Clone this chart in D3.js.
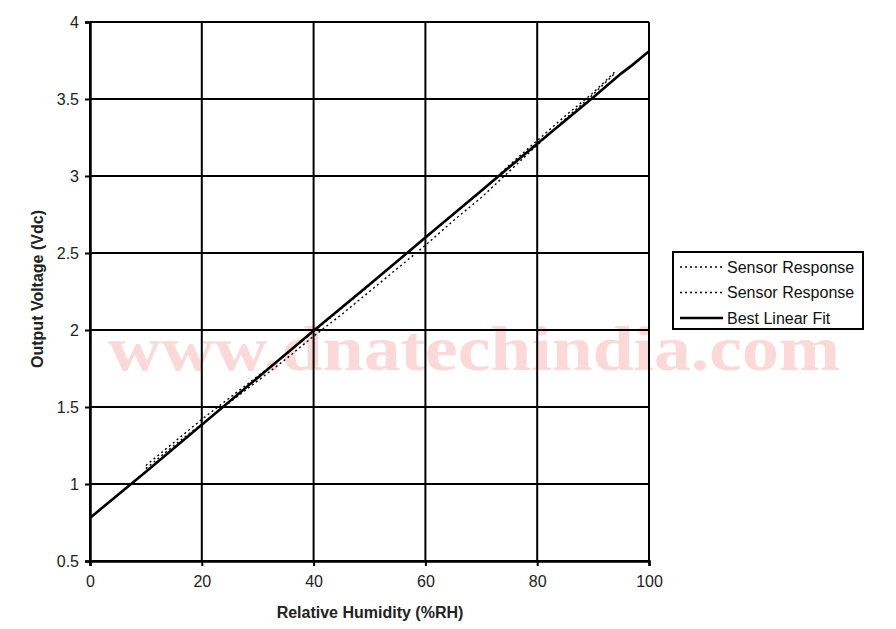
<!DOCTYPE html>
<meta charset="utf-8">
<style>
body { margin: 0; background: #fff; }
svg { font-family: "Liberation Sans", Arial, sans-serif; }
</style>
<body>
<div id="chart"></div>
<script src="https://d3js.org/d3.v7.min.js"></script>
<script>
// relative humidity (%RH) for the two sensor runs
var sensorRH = [10, 15, 20, 25, 30, 35, 40, 45, 50, 55, 60, 65, 70, 75, 80, 85, 90, 94];
var sensorA = [1.12, 1.27, 1.42, 1.56, 1.70, 1.84, 1.99, 2.14, 2.29, 2.45, 2.60, 2.75, 2.90, 3.07, 3.23, 3.39, 3.54, 3.68];
var sensorB = [1.10, 1.25, 1.39, 1.53, 1.67, 1.81, 1.96, 2.10, 2.25, 2.40, 2.55, 2.71, 2.86, 3.03, 3.20, 3.37, 3.53, 3.67];
// best linear fit
var fitRH = [0, 10, 20, 30, 40, 50, 60, 70, 80, 90, 95, 97, 100];
var fitV = [0.78, 1.08, 1.385, 1.69, 1.995, 2.295, 2.60, 2.905, 3.21, 3.51, 3.665, 3.72, 3.81];
var xTicks = [0, 20, 40, 60, 80, 100];
var yTicks = [0.5, 1, 1.5, 2, 2.5, 3, 3.5, 4];
var legendNames = ["Sensor Response", "Sensor Response", "Best Linear Fit"];

var W = 896, H = 629;
var plot = {left: 90, right: 649, top: 22, bottom: 561};

var svg = d3.select("#chart").append("svg")
    .attr("width", W)
    .attr("height", H);

var x = d3.scaleLinear().domain([0, 100]).range([plot.left, plot.right]);
var y = d3.scaleLinear().domain([0.5, 4]).range([plot.bottom, plot.top]);

// watermark sits behind everything
svg.append("text")
    .attr("x", 108)
    .attr("y", 370)
    .attr("textLength", 732)
    .attr("lengthAdjust", "spacingAndGlyphs")
    .attr("font-family", "'Liberation Serif', 'DejaVu Serif', serif")
    .attr("font-weight", "bold")
    .attr("font-size", 64)
    .attr("fill", "#fcd9d9")
    .text("www.dnatechindia.com");

// grid
svg.append("g").selectAll("line")
    .data(xTicks)
    .enter().append("line")
    .attr("x1", function(d) { return x(d); })
    .attr("x2", function(d) { return x(d); })
    .attr("y1", plot.top)
    .attr("y2", plot.bottom)
    .attr("stroke", "#000")
    .attr("stroke-width", 2);

svg.append("g").selectAll("line")
    .data(yTicks)
    .enter().append("line")
    .attr("x1", plot.left)
    .attr("x2", plot.right)
    .attr("y1", function(d) { return y(d); })
    .attr("y2", function(d) { return y(d); })
    .attr("stroke", "#000")
    .attr("stroke-width", 2);

// axes
var xAxis = svg.append("g")
    .attr("transform", "translate(0," + plot.bottom + ")")
    .call(d3.axisBottom(x).tickValues(xTicks).tickSize(5).tickPadding(10));
var yAxis = svg.append("g")
    .attr("transform", "translate(" + plot.left + ",0)")
    .call(d3.axisLeft(y).tickValues(yTicks).tickSize(5).tickPadding(6)
        .tickFormat(function(d) { return d; }));

[xAxis, yAxis].forEach(function(a) {
    a.select(".domain").attr("stroke-width", 2.5);
    a.selectAll(".tick line").attr("stroke-width", 2);
    a.selectAll(".tick text")
        .attr("font-family", "'Liberation Sans', Arial, sans-serif")
        .attr("font-size", 16)
        .attr("fill", "#222");
});

// lines
var line = d3.line()
    .x(function(d) { return x(d[0]); })
    .y(function(d) { return y(d[1]); });

var series = [
    {pts: d3.zip(sensorRH, sensorA), width: 1.4, dash: "2,3"},
    {pts: d3.zip(sensorRH, sensorB), width: 1.4, dash: "2,3"},
    {pts: d3.zip(fitRH, fitV), width: 2.6, dash: null}
];

series.forEach(function(s) {
    svg.append("path")
        .datum(s.pts)
        .attr("fill", "none")
        .attr("stroke", "#000")
        .attr("stroke-width", s.width)
        .attr("stroke-dasharray", s.dash)
        .attr("d", line);
});

// axis titles
svg.append("text")
    .attr("x", 370)
    .attr("y", 618)
    .attr("text-anchor", "middle")
    .attr("font-size", 16)
    .attr("font-weight", "bold")
    .attr("fill", "#222")
    .text("Relative Humidity (%RH)");

svg.append("text")
    .attr("transform", "translate(43,289) rotate(-90)")
    .attr("text-anchor", "middle")
    .attr("font-size", 16)
    .attr("font-weight", "bold")
    .attr("fill", "#222")
    .text("Output Voltage (Vdc)");

// legend
var legend = svg.append("g").attr("transform", "translate(673,252)");
legend.append("rect")
    .attr("width", 190)
    .attr("height", 77)
    .attr("fill", "#fff")
    .attr("stroke", "#000")
    .attr("stroke-width", 2);

var rows = legend.selectAll("g.row")
    .data(legendNames)
    .enter().append("g")
    .attr("class", "row")
    .attr("transform", function(d, i) { return "translate(0," + (15 + i * 25.5) + ")"; });

rows.append("line")
    .attr("x1", 7)
    .attr("x2", 50)
    .attr("stroke", "#000")
    .attr("stroke-width", function(d, i) { return series[i].dash ? 1.4 : 2.6; })
    .attr("stroke-dasharray", function(d, i) { return series[i].dash; });

rows.append("text")
    .attr("x", 54)
    .attr("dy", "0.35em")
    .attr("font-size", 16)
    .attr("fill", "#111")
    .text(function(d) { return d; });
</script>
</body>
